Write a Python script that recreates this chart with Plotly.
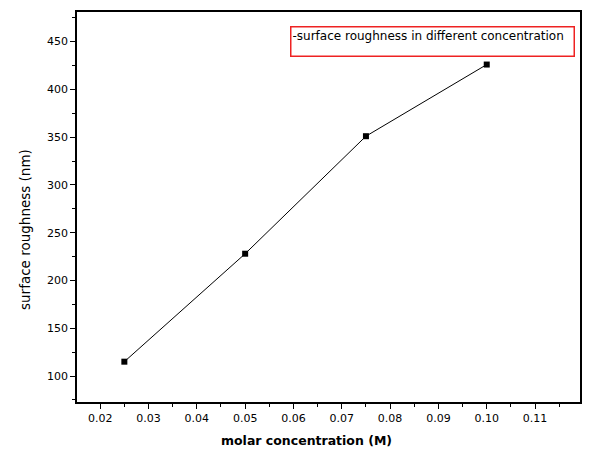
import plotly.graph_objects as go

concentration = [0.025, 0.05, 0.075, 0.10]
roughness = [115, 228, 351, 426]
series_name = "surface roughness in different concentration"
x_title = "molar concentration (M)"
y_title = "surface roughness (nm)"
x_ticks = [0.02, 0.03, 0.04, 0.05, 0.06, 0.07, 0.08, 0.09, 0.10, 0.11]
x_tick_labels = ["0.02", "0.03", "0.04", "0.05", "0.06", "0.07", "0.08", "0.09", "0.10", "0.11"]
y_ticks = [100, 150, 200, 250, 300, 350, 400, 450]

FONT = "DejaVu Sans"
L, R, T, B, W, H = 77, 9, 12, 50, 589, 452
PW, PH = W - L - R, H - T - B

fig = go.Figure()
fig.add_trace(go.Scatter(
    x=concentration, y=roughness, mode="lines+markers", name=series_name,
    line=dict(color="black", width=1),
    marker=dict(symbol="square", size=6, color="black"),
    showlegend=False,
))

# legend box (as in the original: short dash + label inside a red frame)
fig.add_annotation(
    xref="paper", yref="paper", x=(290 - L) / PW, y=(H - B - 26) / PH,
    xanchor="left", yanchor="top", showarrow=False,
    text="-" + series_name, align="left", valign="top",
    width=280, height=26, borderpad=1,
    bordercolor="#ee2222", borderwidth=1.5, bgcolor="white",
    font=dict(family=FONT, size=12, color="black"),
)

# axis titles (placed off-centre as in the original)
fig.add_annotation(
    xref="paper", yref="paper", x=(306 - L) / PW, y=(H - B - 440) / PH,
    xanchor="center", yanchor="middle", showarrow=False,
    text="<b>" + x_title + "</b>", font=dict(family=FONT, size=12.5, color="black"),
)
fig.add_annotation(
    xref="paper", yref="paper", x=(25 - L) / PW, y=(H - B - 230) / PH,
    xanchor="center", yanchor="middle", showarrow=False, textangle=-90,
    text=y_title, font=dict(family=FONT, size=13.5, color="black"),
)

fig.update_layout(
    width=W, height=H,
    margin=dict(l=L, r=R, t=T, b=B),
    paper_bgcolor="white", plot_bgcolor="white",
    font=dict(family=FONT, color="black"),
    xaxis=dict(
        range=[0.0152, 0.1193], tickmode="array", tickvals=x_ticks, ticktext=x_tick_labels,
        ticks="outside", ticklen=5, tickwidth=1, tickcolor="black",
        showline=True, linecolor="black", linewidth=1.5, mirror=True,
        showgrid=False, zeroline=False, tickfont=dict(family=FONT, size=11),
        minor=dict(ticks="outside", ticklen=3, tickcolor="black", dtick=0.005, tick0=0.02),
        automargin=False,
    ),
    yaxis=dict(
        range=[72.8, 481], tickmode="array", tickvals=y_ticks,
        ticks="outside", ticklen=5, tickwidth=1, tickcolor="black",
        showline=True, linecolor="black", linewidth=1.5, mirror=True,
        showgrid=False, zeroline=False, tickfont=dict(family=FONT, size=11),
        minor=dict(ticks="outside", ticklen=3, tickcolor="black", dtick=25, tick0=0),
        automargin=False,
    ),
)

fig.write_html("out.html")
